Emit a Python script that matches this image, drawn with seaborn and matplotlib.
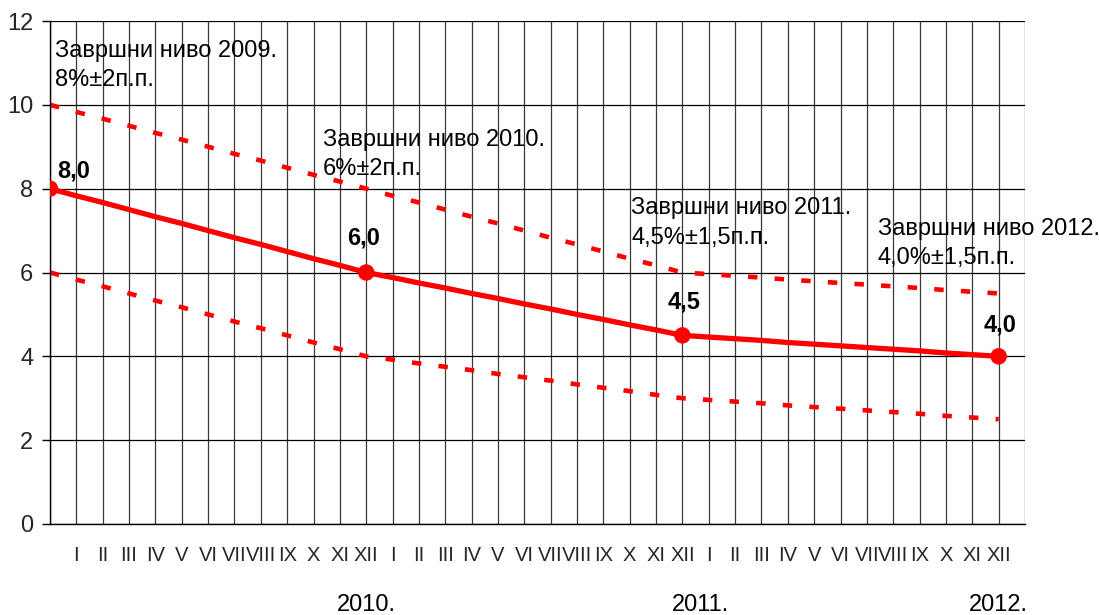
import matplotlib
matplotlib.use("Agg")
import matplotlib.pyplot as plt
import seaborn as sns
import pandas as pd
import numpy as np

# ---- data ----
roman = ["I", "II", "III", "IV", "V", "VI", "VII", "VIII", "IX", "X", "XI", "XII"]
years = ["2010.", "2011.", "2012."]
target = [8.0, 7.83, 7.67, 7.5, 7.33, 7.17, 7.0, 6.83, 6.67, 6.5, 6.33, 6.17, 6.0,
          5.88, 5.75, 5.63, 5.5, 5.38, 5.25, 5.13, 5.0, 4.88, 4.75, 4.63, 4.5,
          4.46, 4.42, 4.38, 4.33, 4.29, 4.25, 4.21, 4.17, 4.13, 4.08, 4.04, 4.0]
upper = [10.0, 9.83, 9.67, 9.5, 9.33, 9.17, 9.0, 8.83, 8.67, 8.5, 8.33, 8.17, 8.0,
         7.83, 7.67, 7.5, 7.33, 7.17, 7.0, 6.83, 6.67, 6.5, 6.33, 6.17, 6.0,
         5.96, 5.92, 5.88, 5.83, 5.79, 5.75, 5.71, 5.67, 5.63, 5.58, 5.54, 5.5]
lower = [6.0, 5.83, 5.67, 5.5, 5.33, 5.17, 5.0, 4.83, 4.67, 4.5, 4.33, 4.17, 4.0,
         3.92, 3.83, 3.75, 3.67, 3.58, 3.5, 3.42, 3.33, 3.25, 3.17, 3.08, 3.0,
         2.96, 2.92, 2.88, 2.83, 2.79, 2.75, 2.71, 2.67, 2.63, 2.58, 2.54, 2.5]
key_idx = [0, 12, 24, 36]
key_labels = ["8,0", "6,0", "4,5", "4,0"]
notes = ["Завршни ниво 2009.\n8%±2п.п.",
         "Завршни ниво 2010.\n6%±2п.п.",
         "Завршни ниво 2011.\n4,5%±1,5п.п.",
         "Завршни ниво 2012.\n4,0%±1,5п.п."]
note_pos = [(0.19, 10.93), (10.36, 8.82), (22.05, 7.18), (31.42, 6.7)]

# ---- style ----
sns.set_theme(style="white")
plt.rcParams["font.family"] = ["Liberation Sans", "DejaVu Sans"]
plt.rcParams["lines.scale_dashes"] = False
FS = 17

fig = plt.figure(figsize=(10.99, 6.15), dpi=100)
ax = fig.add_axes([50 / 1099, 1 - 524 / 615, 975 / 1099, 503 / 615])

x = np.arange(len(target))
df = pd.DataFrame({"x": x, "target": target, "upper": upper, "lower": lower})

red = "#FF0000"
for col in ["upper", "lower"]:
    sns.lineplot(data=df, x="x", y=col, ax=ax, color=red, lw=3.3, legend=False)
for ln in ax.lines:
    ln.set_linestyle((0, (6.8, 12.4)))
    ln.set_dash_capstyle("butt")

sns.lineplot(data=df, x="x", y="target", ax=ax, color=red, lw=3.8, legend=False)
key_df = df.iloc[key_idx]
sns.scatterplot(data=key_df, x="x", y="target", ax=ax, color=red, s=140,
                edgecolor="none", zorder=5, legend=False)

# data labels
offsets = [(24, 18), (-3, 35), (2, 33), (1, 31)]
for i, lab, off in zip(key_idx, key_labels, offsets):
    ax.annotate(lab, (i, target[i]), xytext=(off[0] * 0.72, off[1] * 0.72),
                textcoords="offset points", ha="center", va="center",
                fontsize=FS, fontweight="bold", color="black", zorder=6)

for txt, (tx, ty) in zip(notes, note_pos):
    ax.text(tx, ty, txt, fontsize=FS, ha="left", va="center",
            linespacing=1.42, color="black", zorder=6)

# axes
ax.set_xlim(0, 37)
ax.set_ylim(0, 12)
ax.set_yticks(np.arange(0, 13, 2))
ax.set_yticklabels([str(v) for v in range(0, 13, 2)], fontsize=FS)
ax.set_xticks(np.arange(0, 38))
ax.set_xticklabels([""] + roman * 3 + [""], fontsize=14.5)
ax.tick_params(axis="x", length=0, pad=16)
ax.tick_params(axis="y", length=6, width=1, color="black", pad=6, left=True)
ax.set_xlabel("")
ax.set_ylabel("")

ax.grid(axis="y", color="black", lw=0.9)
ax.grid(axis="x", color="#3a3a3a", lw=0.9)
ax.set_axisbelow(True)
for s in ["top", "right"]:
    ax.spines[s].set_visible(False)
for s in ["left", "bottom"]:
    ax.spines[s].set_color("black")
    ax.spines[s].set_linewidth(1)

year_x = [12, 24.7, 36]
for yx, yl in zip(year_x, years):
    ax.text(yx, -(605 - 524) / 503, yl, transform=ax.get_xaxis_transform(),
            ha="center", va="center", fontsize=FS, color="black")

fig.savefig("out.png", dpi=100)
